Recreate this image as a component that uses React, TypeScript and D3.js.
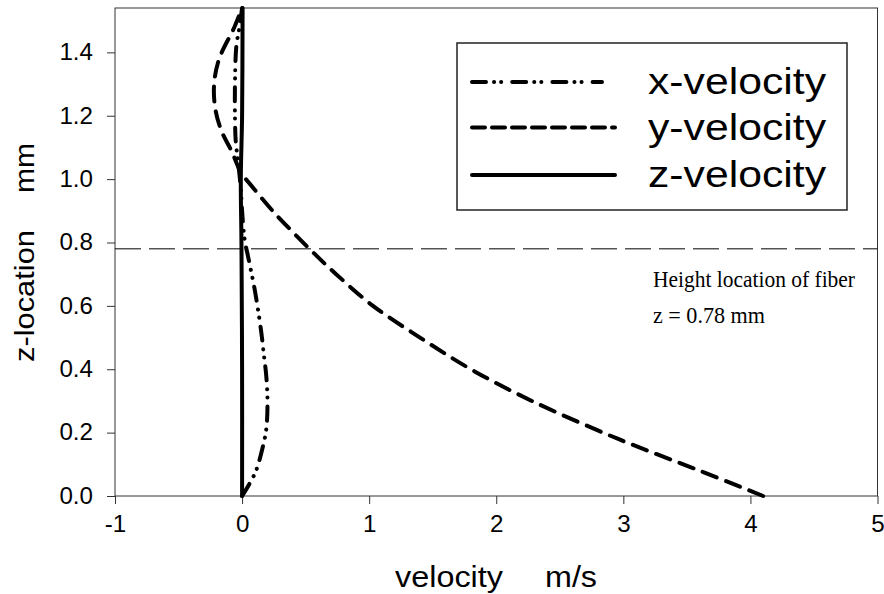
import React, { useRef, useEffect } from "react";
import * as d3 from "d3";

// x-velocity (dash-dot-dot): z in mm, v in m/s
const xVelZ = [0, 0.04, 0.08, 0.15, 0.21, 0.3, 0.38, 0.45, 0.52, 0.65, 0.75, 0.81, 0.9, 0.97, 1.05, 1.12, 1.2, 1.3, 1.42, 1.48, 1.54];
const xVelV = [0, 0.06, 0.11, 0.16, 0.19, 0.2, 0.19, 0.17, 0.15, 0.1, 0.05, 0.02, 0, -0.01, -0.03, -0.05, -0.056, -0.056, -0.045, -0.02, 0];

// y-velocity (dashed)
const yVelZ = [0, 0.08, 0.18, 0.3, 0.4, 0.5, 0.6, 0.7, 0.78, 0.9, 1.0, 1.013, 1.09, 1.15, 1.22, 1.3, 1.38, 1.48, 1.54];
const yVelV = [4.1, 3.6, 2.96, 2.28, 1.8, 1.4, 1.03, 0.74, 0.53, 0.24, 0.03, 0, -0.085, -0.16, -0.21, -0.22, -0.18, -0.06, 0];

// z-velocity (solid)
const zVelZ = [0, 0.4, 0.8, 1.0, 1.2, 1.54];
const zVelV = [0, 0, -0.005, -0.01, 0, 0.004];

const xTicks = [-1, 0, 1, 2, 3, 4, 5];
const yTicks = [0, 0.2, 0.4, 0.6, 0.8, 1.0, 1.2, 1.4];
const fiberHeight = 0.78;

const seriesNames = ["x-velocity", "y-velocity", "z-velocity"];

const App = () => {
  const ref = useRef(null);

  useEffect(() => {
    if (!ref.current) return;
    const svg = d3.select(ref.current);
    svg.selectAll("*").remove();

    const left = 115, right = 877.5, top = 8, bottom = 496;
    const x = d3.scaleLinear().domain([-1, 5]).range([left, right]);
    const y = d3.scaleLinear().domain([0, 1.54]).range([bottom, top]);
    const sans = "Arial, 'Liberation Sans', Helvetica, sans-serif";

    // frame
    svg.append("rect")
      .attr("x", left).attr("y", top)
      .attr("width", right - left).attr("height", bottom - top)
      .attr("fill", "none").attr("stroke", "#333").attr("stroke-width", 1);

    const xAxis = svg.append("g")
      .attr("transform", `translate(0,${bottom})`)
      .call(d3.axisBottom(x).tickValues(xTicks).tickSize(8).tickPadding(12).tickFormat((d) => String(d)));
    const yAxis = svg.append("g")
      .attr("transform", `translate(${left},0)`)
      .call(d3.axisLeft(y).tickValues(yTicks).tickSize(8).tickPadding(14).tickFormat((d) => d.toFixed(1)));

    [xAxis, yAxis].forEach((a) => {
      a.select(".domain").remove();
      a.selectAll(".tick line").attr("stroke", "#333");
      a.selectAll(".tick text")
        .attr("fill", "#000")
        .attr("font-family", sans)
        .attr("font-size", 23)
        .each(function () {
          const w = this.getComputedTextLength();
          d3.select(this).attr("textLength", w * 1.05).attr("lengthAdjust", "spacingAndGlyphs");
        });
    });

    // fiber height line
    svg.append("line")
      .attr("x1", left).attr("x2", right)
      .attr("y1", y(fiberHeight)).attr("y2", y(fiberHeight))
      .attr("stroke", "#000").attr("stroke-width", 1)
      .attr("stroke-dasharray", "26 8");

    const series = [
      { z: xVelZ, v: xVelV, dash: "14 9 0.1 8 0.1 9" },
      { z: yVelZ, v: yVelV, dash: "15 10" },
      { z: zVelZ, v: zVelV, dash: null },
    ];

    series.forEach((s) => {
      const pts = s.z.map((zz, i) => [s.v[i], zz]);
      const path = d3.line()
        .x((d) => x(d[0]))
        .y((d) => y(d[1]))
        .curve(d3.curveCatmullRom.alpha(0.5));
      svg.append("path")
        .datum(pts)
        .attr("d", path)
        .attr("fill", "none")
        .attr("stroke", "#000")
        .attr("stroke-width", 4)
        .attr("stroke-linecap", "round")
        .attr("stroke-dasharray", s.dash);
    });

    // legend
    svg.append("rect")
      .attr("x", 457).attr("y", 43)
      .attr("width", 390).attr("height", 167)
      .attr("fill", "#fff").attr("stroke", "#222").attr("stroke-width", 1.5);

    const legendRows = [82, 127.5, 175];
    const legendDash = ["14 8 0.1 7 0.1 11", "13 7", null];
    const legendEnd = [602, 615, 615];
    seriesNames.forEach((name, i) => {
      svg.append("line")
        .attr("x1", 472).attr("x2", legendEnd[i])
        .attr("y1", legendRows[i]).attr("y2", legendRows[i])
        .attr("stroke", "#000").attr("stroke-width", 4)
        .attr("stroke-linecap", "round")
        .attr("stroke-dasharray", legendDash[i]);
      svg.append("text")
        .attr("x", 648).attr("y", legendRows[i] + 12)
        .attr("font-family", sans).attr("font-size", 36)
        .attr("textLength", 178).attr("lengthAdjust", "spacingAndGlyphs")
        .text(name);
    });

    // annotation
    const serif = "'Times New Roman', 'Liberation Serif', serif";
    svg.append("text")
      .attr("x", 653).attr("y", 287)
      .attr("font-family", serif).attr("font-size", 24)
      .attr("textLength", 202).attr("lengthAdjust", "spacingAndGlyphs")
      .text("Height location of fiber");
    svg.append("text")
      .attr("x", 653).attr("y", 323)
      .attr("font-family", serif).attr("font-size", 24)
      .attr("textLength", 112).attr("lengthAdjust", "spacingAndGlyphs")
      .text("z = 0.78 mm");

    // axis titles
    svg.append("text")
      .attr("x", 395).attr("y", 587)
      .attr("font-family", sans).attr("font-size", 29)
      .attr("textLength", 108).attr("lengthAdjust", "spacingAndGlyphs")
      .text("velocity");
    svg.append("text")
      .attr("x", 545).attr("y", 587)
      .attr("font-family", sans).attr("font-size", 29)
      .attr("textLength", 52).attr("lengthAdjust", "spacingAndGlyphs")
      .text("m/s");

    svg.append("text")
      .attr("transform", "translate(34,362) rotate(-90)")
      .attr("font-family", sans).attr("font-size", 28)
      .attr("textLength", 132).attr("lengthAdjust", "spacingAndGlyphs")
      .text("z-location");
    svg.append("text")
      .attr("transform", "translate(34,193) rotate(-90)")
      .attr("font-family", sans).attr("font-size", 28)
      .attr("textLength", 50).attr("lengthAdjust", "spacingAndGlyphs")
      .text("mm");
  }, []);

  return (
    <svg
      ref={ref}
      width={884}
      height={594}
      style={{ position: "absolute", left: 0, top: 0, background: "#fff" }}
    />
  );
};

export default App;
